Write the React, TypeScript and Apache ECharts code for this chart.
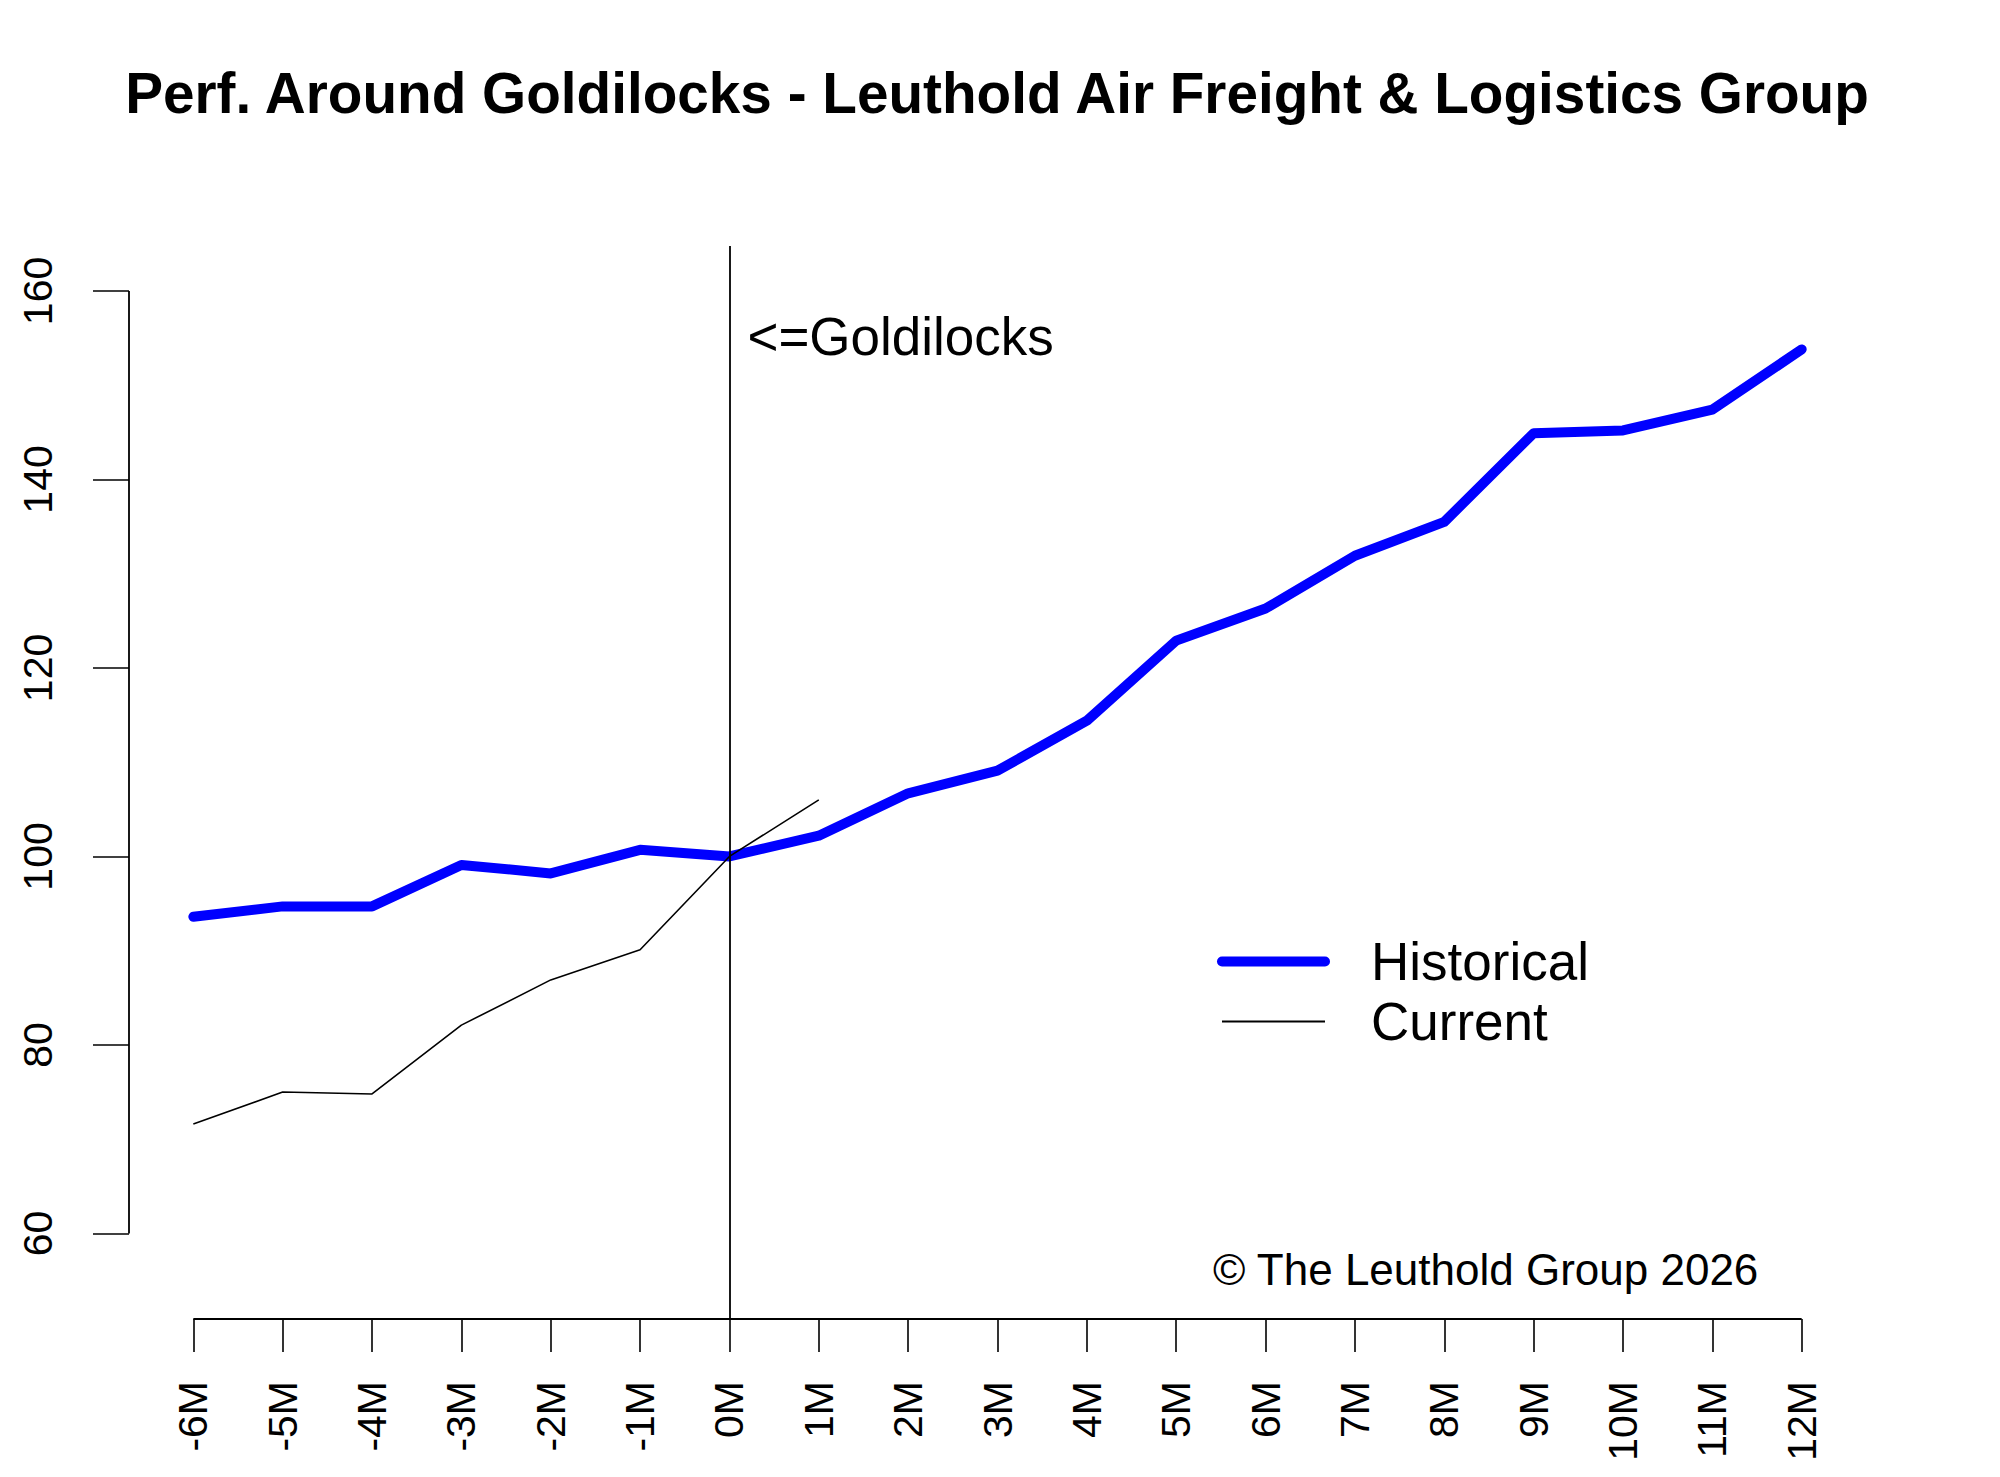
import React, { useEffect, useRef } from "react";
import * as echarts from "echarts";

const FONT = "'Liberation Sans', Arial, sans-serif";

const chartTitle = "Perf. Around Goldilocks - Leuthold Air Freight & Logistics Group";
const months = [-6, -5, -4, -3, -2, -1, 0, 1, 2, 3, 4, 5, 6, 7, 8, 9, 10, 11, 12];
const xTickLabels = ["-6M", "-5M", "-4M", "-3M", "-2M", "-1M", "0M", "1M", "2M", "3M", "4M", "5M", "6M", "7M", "8M", "9M", "10M", "11M", "12M"];
const yTicks = [60, 80, 100, 120, 140, 160];
const historical = [93.6, 94.7, 94.7, 99.1, 98.2, 100.7, 100.0, 102.2, 106.7, 109.1, 114.4, 122.9, 126.3, 131.9, 135.5, 144.9, 145.2, 147.4, 153.8];
const current = [71.6, 75.0, 74.8, 82.1, 86.9, 90.1, 100.0, 106.0];
const eventMonth = 0;
const eventLabel = "<=Goldilocks";
const eventLabelValue = 155.2;
const copyright = "© The Leuthold Group 2026";

// axis ranges (R-style 4% extension of -6..12)
const xMin = -6.72;
const xMax = 12.72;
const yMin = 50.92;
const yMax = 164.77;

export default function App() {
  const ref = useRef<HTMLDivElement>(null);
  useEffect(() => {
    document.body.style.margin = "0";
    if (!ref.current) return;
    const chart = echarts.init(ref.current, null, { renderer: "svg" });
    const histData = historical.map((v, i) => [months[i], v]);
    const curData = current.map((v, i) => [months[i], v]);
    chart.setOption({
      animation: false,
      backgroundColor: "#ffffff",
      textStyle: { fontFamily: FONT },
      grid: { left: 129, right: 134, top: 246, bottom: 158, containLabel: false },
      xAxis: {
        type: "value",
        min: xMin,
        max: xMax,
        axisLine: { show: false, onZero: false },
        splitLine: { show: false },
        axisTick: {
          show: true,
          length: 33,
          customValues: months,
          lineStyle: { color: "#000", width: 1.6 },
        },
        axisLabel: {
          show: true,
          customValues: months,
          rotate: 90,
          margin: 62,
          fontSize: 41,
          fontFamily: FONT,
          color: "#000",
          formatter: (v: number) => xTickLabels[months.indexOf(v)] ?? "",
        },
      },
      yAxis: {
        type: "value",
        min: yMin,
        max: yMax,
        axisLine: { show: false, onZero: false },
        splitLine: { show: false },
        axisTick: {
          show: true,
          length: 36,
          customValues: yTicks,
          lineStyle: { color: "#000", width: 1.6 },
        },
        axisLabel: {
          show: true,
          customValues: yTicks,
          rotate: 90,
          margin: 71,
          fontSize: 41,
          fontFamily: FONT,
          color: "#000",
        },
      },
      legend: {
        show: true,
        orient: "vertical",
        left: 1212,
        top: 930,
        itemWidth: 103,
        itemHeight: 53,
        itemGap: 7,
        selectedMode: false,
        data: [
          { name: "Historical", lineStyle: { width: 10, color: "#0000FF" }, itemStyle: { opacity: 0 } },
          { name: "Current", lineStyle: { width: 1.8, color: "#000000" }, itemStyle: { opacity: 0 } },
        ],
        textStyle: {
          fontSize: 53,
          lineHeight: 53,
          fontFamily: FONT,
          color: "#000",
          padding: [0, 0, 0, 41],
        },
      },
      graphic: [
        {
          type: "text",
          x: 997,
          y: 65,
          style: {
            text: chartTitle,
            fontSize: 56.7,
            fontWeight: "bold",
            fontFamily: FONT,
            fill: "#000",
            textAlign: "center",
            textVerticalAlign: "top",
          },
        },
        {
          type: "text",
          x: 1213,
          y: 1247,
          style: {
            text: copyright,
            fontSize: 44,
            fontFamily: FONT,
            fill: "#000",
            textAlign: "left",
            textVerticalAlign: "top",
          },
        },
      ],
      series: [
        {
          name: "Historical",
          type: "line",
          data: histData,
          symbol: "none",
          showSymbol: false,
          lineStyle: { color: "#0000FF", width: 10, cap: "round", join: "round" },
          itemStyle: { color: "#0000FF" },
          z: 2,
        },
        {
          name: "Current",
          type: "line",
          data: curData,
          symbol: "none",
          showSymbol: false,
          lineStyle: { color: "#000000", width: 1.6 },
          itemStyle: { color: "#000000" },
          z: 3,
        },
        {
          name: "frame",
          type: "line",
          data: [[xMin, yTicks[0]], [xMin, yTicks[yTicks.length - 1]]],
          symbol: "none",
          clip: false,
          silent: true,
          lineStyle: { color: "#000", width: 1.8 },
          z: 4,
        },
        {
          name: "frameX",
          type: "line",
          data: [[months[0], yMin], [months[months.length - 1], yMin]],
          symbol: "none",
          clip: false,
          silent: true,
          lineStyle: { color: "#000", width: 1.8 },
          z: 4,
        },
        {
          name: "event",
          type: "scatter",
          data: [[eventMonth, eventLabelValue]],
          symbolSize: 0,
          silent: true,
          itemStyle: { opacity: 1, color: "#000" },
          label: {
            show: true,
            position: "right",
            distance: 18,
            formatter: eventLabel,
            fontSize: 53,
            fontFamily: FONT,
            color: "#000000",
            opacity: 1,
          },
          markLine: {
            silent: true,
            symbol: "none",
            label: { show: false },
            lineStyle: { color: "#000", width: 1.8, type: "solid", opacity: 1 },
            data: [{ xAxis: eventMonth }],
          },
          z: 5,
        },
      ],
    });
    return () => chart.dispose();
  }, []);
  return <div ref={ref} style={{ width: 2000, height: 1477 }} />;
}
